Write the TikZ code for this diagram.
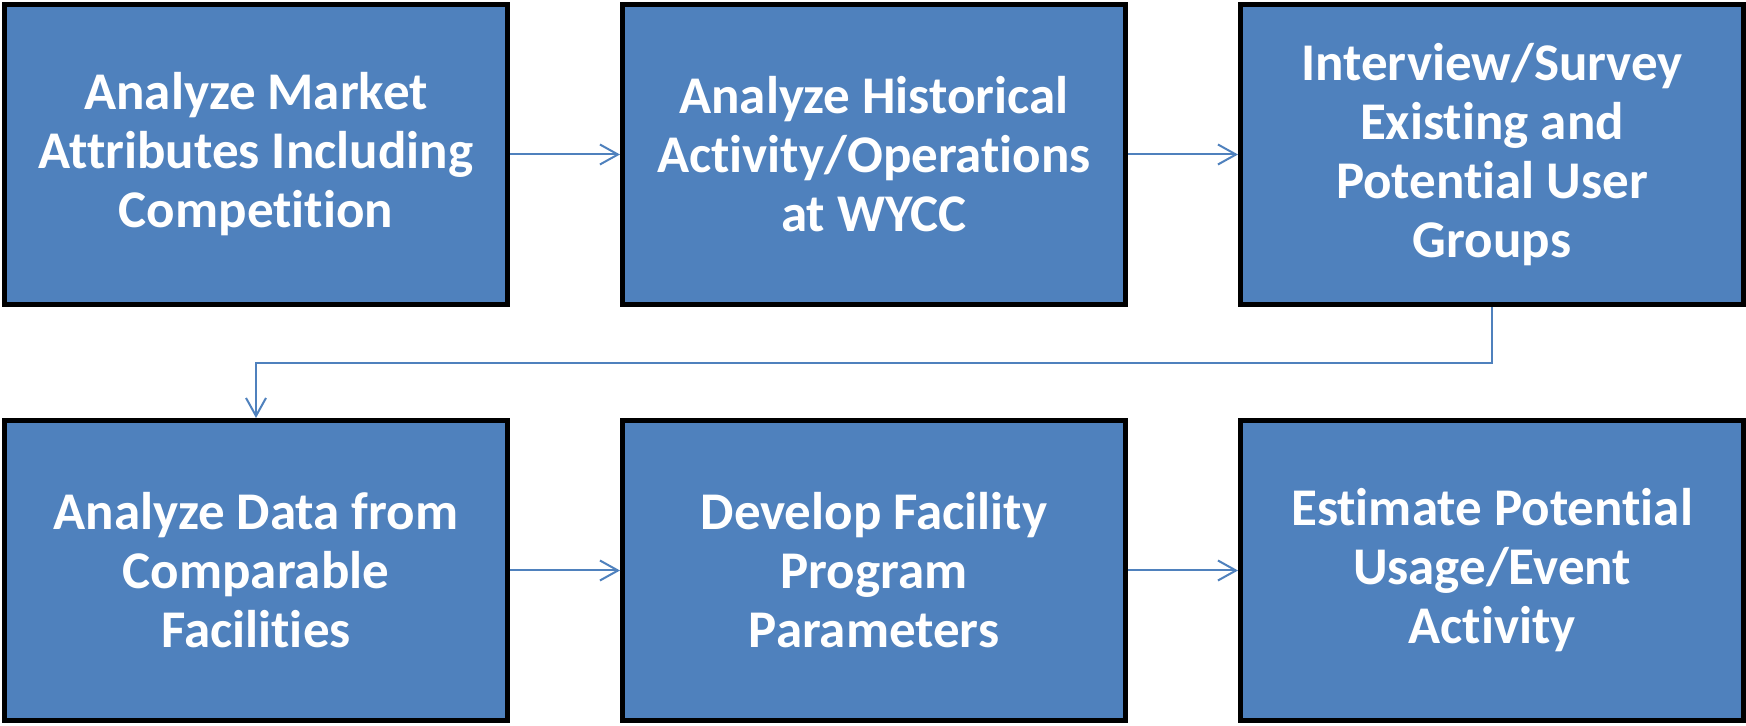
\documentclass[tikz,border=0pt]{standalone}
\usepackage{fontspec}
\setmainfont{Carlito}[Ligatures=NoCommon]
\usetikzlibrary{arrows.meta, positioning}
\usepackage{xcolor}

\definecolor{stepblue}{HTML}{4F81BD}

\begin{document}
\begin{tikzpicture}[
    node distance=55.5pt and 55pt,
    box/.style={rectangle, draw=black, line width=2.5pt, fill=stepblue, text=white,
        minimum width=251.5pt, minimum height=150pt, align=center,
        font=\fontsize{26.5pt}{29.5pt}\selectfont\bfseries},
    arrow/.style={-{Straight Barb[length=9pt, width=10pt]}, line width=1pt, draw=stepblue}
]
    \useasboundingbox (0,0) rectangle (873pt,-363pt);

    \node[box] (market) at (128pt,-77.25pt) {Analyze Market\\Attributes Including\\Competition};
    \node[box, right=of market] (history) {Analyze Historical\\Activity/Operations\\at WYCC};
    \node[box, right=of history] (survey) {Interview/Survey\\Existing and\\Potential User\\Groups};
    \node[box, below=of market] (comparable) {Analyze Data from\\Comparable\\Facilities};
    \node[box, right=of comparable] (program) {Develop Facility\\Program\\Parameters};
    \node[box, right=of program] (estimate) {Estimate Potential\\Usage/Event\\Activity};

    \draw[arrow] (market) -- (history);
    \draw[arrow] (history) -- (survey);
    \draw[arrow] (survey.south) -- ++(0,-28pt) -| (comparable.north);
    \draw[arrow] (comparable) -- (program);
    \draw[arrow] (program) -- (estimate);
\end{tikzpicture}
\end{document}
